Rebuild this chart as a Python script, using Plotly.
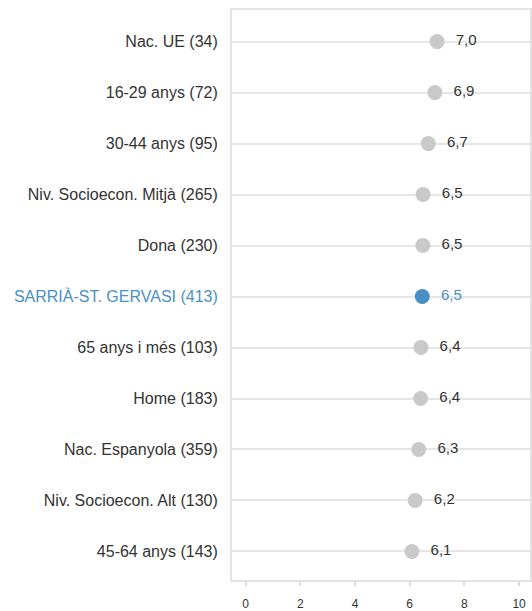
import plotly.graph_objects as go

# categories, top to bottom as shown
categories = [
    "Nac. UE (34)",
    "16-29 anys (72)",
    "30-44 anys (95)",
    "Niv. Socioecon. Mitjà (265)",
    "Dona (230)",
    "SARRIÀ-ST. GERVASI (413)",
    "65 anys i més (103)",
    "Home (183)",
    "Nac. Espanyola (359)",
    "Niv. Socioecon. Alt (130)",
    "45-64 anys (143)",
]
scores = [7.00, 6.92, 6.68, 6.49, 6.48, 6.46, 6.41, 6.40, 6.33, 6.20, 6.08]
highlight = "SARRIÀ-ST. GERVASI (413)"

GREY = "#c9c9c9"
BLUE = "#4a8fc3"
FONT = "Liberation Sans, Arial"

colors = [BLUE if c == highlight else GREY for c in categories]
text_colors = [BLUE if c == highlight else "#333333" for c in categories]
# leading non-breaking spaces push the value a bit away from the dot
labels = ["\u00a0\u00a0" + f"{v:.1f}".replace(".", ",") for v in scores]
tick_text = [
    f'<span style="color:{BLUE}">{c}</span>' if c == highlight else c
    for c in categories
]

fig = go.Figure()
fig.add_trace(go.Scatter(
    x=scores,
    y=categories,
    mode="markers+text",
    marker=dict(size=15, color=colors),
    text=labels,
    textposition="middle right",
    textfont=dict(size=15, color=text_colors, family=FONT),
    cliponaxis=False,
    hoverinfo="skip",
))

fig.update_layout(
    width=532,
    height=611,
    margin=dict(l=232, r=2, t=10, b=31),
    paper_bgcolor="white",
    plot_bgcolor="white",
    showlegend=False,
    font=dict(family=FONT, size=15, color="#333333"),
)
fig.update_xaxes(
    range=[-0.5, 10.4],
    tickvals=[0, 2, 4, 6, 8, 10],
    showgrid=False,
    zeroline=False,
    showline=True,
    mirror=True,
    linecolor="#e3e3e3",
    linewidth=2,
    ticks="outside",
    ticklen=4,
    tickcolor="#dddddd",
    tickwidth=2,
    ticklabelstandoff=8,
    tickfont=dict(size=12, color="#333333"),
    automargin=False,
)
fig.update_yaxes(
    categoryorder="array",
    categoryarray=categories[::-1],
    tickvals=categories,
    ticktext=tick_text,
    range=[-0.56, 10.62],
    showgrid=True,
    gridcolor="#e6e6e6",
    gridwidth=2,
    zeroline=False,
    showline=True,
    mirror=True,
    linecolor="#e3e3e3",
    linewidth=2,
    ticks="",
    ticklabelstandoff=9,
    tickfont=dict(size=16, color="#333333"),
    automargin=False,
)

# drop the default 8px page margin so the figure fills the window
fig.write_html(
    "out.html",
    config={"displayModeBar": False},
    post_script="document.body.style.margin='0';document.body.style.overflow='hidden';",
)
